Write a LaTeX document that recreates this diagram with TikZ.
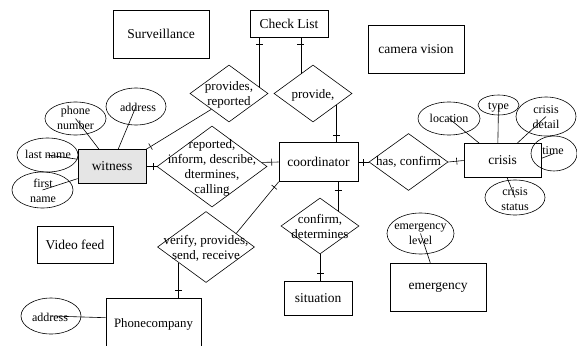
\documentclass[tikz,border=0pt]{standalone}
\usepackage{fontspec}
\setmainfont{Liberation Serif}
\usetikzlibrary{shapes.geometric,calc,decorations.markings}
\begin{document}
\begin{tikzpicture}[x=1pt,y=-1pt, line width=0.6pt,
 ent/.style={draw, rectangle, inner sep=0pt, font=\fontsize{13.5}{16}\selectfont},
 rel/.style={draw, diamond, inner sep=0pt},
 attr/.style={draw, ellipse, inner sep=0pt},
 reltext/.style={align=center, font=\fontsize{13}{15.2}\selectfont, inner sep=0pt},
 attrtext/.style={align=center, font=\fontsize{12}{15}\selectfont, inner sep=0pt},
 crossbar/.style={postaction={decorate}, decoration={markings, mark=at position #1 with {\draw (0,-3.5pt) -- (0,3.5pt);}}}]
\useasboundingbox (0,0) rectangle (577,345);

% entities
\node[ent, minimum width=96pt, minimum height=48pt] (sv) at (161,34) {Surveillance};
\node[ent, minimum width=78pt, minimum height=27pt] (cl) at (289,23.5) {Check List};
\node[ent, minimum width=96pt, minimum height=48pt] (cv) at (416,49) {camera vision};
\node[ent, fill=gray!20, minimum width=68pt, minimum height=34pt] (w) at (112,166.5) {witness};
\node[ent, minimum width=79pt, minimum height=39pt] (co) at (318.5,162) {coordinator};
\node[ent, minimum width=77pt, minimum height=34pt] (cr) at (502.5,160.5) {crisis};
\node[ent, minimum width=76pt, minimum height=37pt] (vf) at (75,244.5) {Video feed};
\node[ent, minimum width=95pt, minimum height=52pt, font=\fontsize{12.8}{16}\selectfont] (pc) at (153.5,324) {Phonecompany};
\node[ent, minimum width=68pt, minimum height=34pt] (sit) at (318,298) {situation};
\node[ent, minimum width=96pt, minimum height=48pt] (em) at (438,287) {emergency};

% relationships
\node[rel, minimum width=78pt, minimum height=57pt] (d1) at (229,93.5) {};
\node[reltext] (t1) at (229,94.5) {provides,\\reported};
\node[rel, minimum width=78pt, minimum height=57pt] (d2) at (313,93.5) {};
\node[reltext] (t2) at (313,95) {provide,};
\node[rel, minimum width=110pt, minimum height=81pt] (d3) at (212,166.5) {};
\node[reltext] (t3) at (212,168) {reported,\\inform, describe,\\dtermines,\\calling};
\node[rel, minimum width=97pt, minimum height=71pt] (d4) at (206,247) {};
\node[reltext] (t4) at (206,248.5) {verify, provides,\\send, receive};
\node[rel, minimum width=78pt, minimum height=56pt] (d5) at (320,226) {};
\node[reltext] (t5) at (320,226.5) {confirm,\\determines};
\node[rel, minimum width=79pt, minimum height=57pt] (d6) at (408.5,162) {};
\node[reltext] (t6) at (408.5,162) {has, confirm};

% attributes
\node[attr, minimum width=61pt, minimum height=33pt] (pn) at (75.5,118.5) {};
\node[attrtext] (tpn) at (75.5,118) {phone\\number};
\node[attr, minimum width=60pt, minimum height=37pt] (ad) at (136,106.5) {};
\node[attrtext] (tad) at (138,107) {address};
\node[attr, minimum width=61pt, minimum height=34pt] (ln) at (47.5,155) {};
\node[attrtext] (tln) at (48,154) {last name};
\node[attr, minimum width=61pt, minimum height=36pt] (fn) at (42.5,190) {};
\node[attrtext] (tfn) at (43,190.5) {first\\name};
\node[attr, minimum width=62pt, minimum height=33pt] (lo) at (449,118.5) {};
\node[attrtext] (tlo) at (449,118) {location};
\node[attr, minimum width=41pt, minimum height=20pt] (ty) at (498.5,105) {};
\node[attrtext] (tty) at (498.5,107) {type};
\node[attr, minimum width=60pt, minimum height=39pt] (cd) at (546,116.5) {};
\node[attrtext] (tcd) at (546,117.5) {crisis\\detail};
\node[attr, minimum width=46pt, minimum height=35pt] (ti) at (554,153.5) {};
\node[attrtext] (tti) at (553,151) {time};
\node[attr, minimum width=60pt, minimum height=35pt] (cs) at (515,197.5) {};
\node[attrtext] (tcs) at (515,199) {crisis\\status};
\node[attr, minimum width=67pt, minimum height=41pt] (el) at (420.5,233.5) {};
\node[attrtext] (tel) at (420.5,233.5) {emergency\\level};
\node[attr, minimum width=60pt, minimum height=36pt] (ad2) at (51,316) {};
\node[attrtext] (tad2) at (50,317) {address};

% attribute lines
\draw (pn.center) -- ($(w.north west)!0.31!(w.north east)$);
\draw (ad.center) -- ($(w.north west)!0.59!(w.north east)$);
\draw (ln.center) -- ($(w.north west)!0.29!(w.south west)$);
\draw (fn.center) -- ($(w.north west)!0.85!(w.south west)$);
\draw (lo.center) -- ($(cr.north west)!0.2!(cr.north east)$);
\draw (ty.center) -- ($(cr.north west)!0.44!(cr.north east)$);
\draw (cd.center) -- ($(cr.north west)!0.69!(cr.north east)$);
\draw (ti.center) -- ($(cr.north east)!0.44!(cr.south east)$);
\draw (cs.center) -- ($(cr.south west)!0.56!(cr.south east)$);
\draw (el.center) -- ($(em.north west)!0.42!(em.north east)$);
\draw (ad2.center) -- ($(pc.north west)+(0,20)$);

% relationship connectors
\coordinate (a1) at ($(d1.north)!0.77!(d1.east)$);
\coordinate (a2) at ($(d2.north)!0.31!(d2.west)$);
\coordinate (a3) at ($(d2.south)!0.59!(d2.east)$);
\coordinate (c1) at ($(d3.east)!0.1!(d3.north)$);
\coordinate (a6) at ($(d1.south)!0.45!(d1.west)$);
\coordinate (a7) at ($(d4.north)!0.62!(d4.east)$);
\coordinate (a8) at ($(d4.south)!0.56!(d4.west)$);
\coordinate (a9) at ($(d5.north)!0.46!(d5.east)$);

\draw[crossbar=7pt] (a1 |- cl.south) -- (a1);
\draw[crossbar=7pt] (a2 |- cl.south) -- (a2);
\draw[crossbar=7pt] (a3 |- co.north) -- (a3);
\draw[crossbar=7pt] (w.east) -- (d3.west);
\draw[crossbar=7pt] (co.west) -- (c1);
\draw[crossbar=5pt] (w.north east) -- (a6);
\draw[crossbar=7pt] (co.south west) -- (a7);
\draw[crossbar=7pt] (a8 |- pc.north) -- (a8);
\draw[crossbar=8pt] (a9 |- co.south) -- (a9);
\draw[crossbar=7pt] (d5.south |- sit.north) -- (d5.south);
\draw[crossbar=5pt] (co.east) -- (d6.west);
\draw[crossbar=7pt] (cr.west) -- (d6.east);
\end{tikzpicture}
\end{document}
